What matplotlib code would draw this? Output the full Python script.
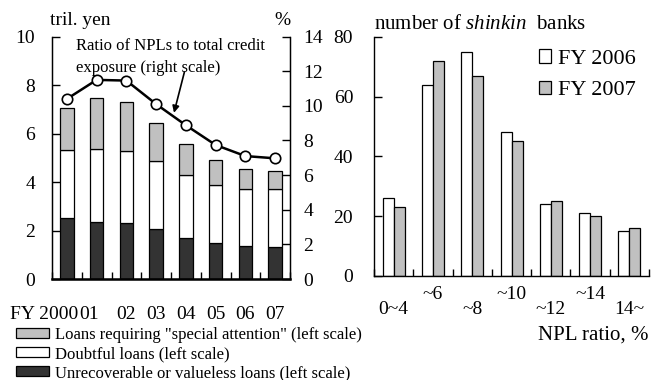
import matplotlib
matplotlib.use("Agg")
import matplotlib.pyplot as plt
from matplotlib.patches import Patch
import numpy as np

plt.rcParams['font.family'] = ['Liberation Serif', 'DejaVu Serif']
plt.rcParams['mathtext.fontset'] = 'custom'
plt.rcParams['mathtext.it'] = 'Liberation Serif:italic'
plt.rcParams['mathtext.rm'] = 'Liberation Serif'

# ---- Left panel data (tril. yen) ----
years = ["FY 2000", "01", "02", "03", "04", "05", "06", "07"]
unrecoverable = [2.51, 2.37, 2.33, 2.07, 1.68, 1.47, 1.36, 1.31]
doubtful = [2.82, 3.00, 2.96, 2.79, 2.63, 2.39, 2.35, 2.40]
special_attention = [1.72, 2.10, 2.00, 1.57, 1.27, 1.06, 0.82, 0.74]
npl_ratio = [10.4, 11.5, 11.46, 10.1, 8.88, 7.74, 7.1, 6.97]

# ---- Right panel data (number of shinkin banks) ----
npl_bins = ["0~4", "~6", "~8", "~10", "~12", "~14", "14~"]
fy2006 = [26, 64, 75, 48, 24, 21, 15]
fy2007 = [23, 72, 67, 45, 25, 20, 16]

GRAY = "#c0c0c0"
DARK = "#333333"
FS = 14

fig = plt.figure(figsize=(6.64, 3.80), dpi=100)

# ================= Left panel =================
ax = fig.add_axes([52/664, 1-279/380, 238/664, 242.4/380])
x = np.arange(len(years))
w = 0.46
ax.bar(x, unrecoverable, w, color=DARK, edgecolor='black', linewidth=0.9)
ax.bar(x, doubtful, w, bottom=unrecoverable, color='white', edgecolor='black', linewidth=0.9)
bot2 = np.array(unrecoverable) + np.array(doubtful)
ax.bar(x, special_attention, w, bottom=bot2, color=GRAY, edgecolor='black', linewidth=0.9)
ax.set_xlim(-0.5, len(years) - 0.5)
ax.set_ylim(0, 10)
ax.set_yticks(range(0, 11, 2))
ax.tick_params(axis='y', direction='in', length=6, width=1, labelsize=FS, pad=12)
ax.set_xticks(x)
ax.set_xticklabels([])
ax.set_xticks(np.arange(-0.5, len(years), 1), minor=True)
ax.tick_params(axis='x', which='major', length=0)
ax.tick_params(axis='x', which='minor', direction='in', length=5, width=1)
ax.spines['top'].set_visible(False)
for s in ['left', 'right']:
    ax.spines[s].set_linewidth(1)
ax.spines['bottom'].set_linewidth(1.8)

# year labels (first two nudged like the reference)
xt = ax.get_xaxis_transform()
for i, lab in enumerate(years):
    if i == 0:
        ax.text(i + 0.37, -0.1485, lab, transform=xt, fontsize=FS, ha='right', va='center')
    elif i == 1:
        ax.text(i - 0.25, -0.1485, lab, transform=xt, fontsize=FS, ha='center', va='center')
    else:
        ax.text(i, -0.1485, lab, transform=xt, fontsize=FS, ha='center', va='center')

ax2 = ax.twinx()
ax2.plot(x, npl_ratio, color='black', lw=1.8, marker='o', markersize=7.5,
         markerfacecolor='white', markeredgecolor='black', markeredgewidth=1.2, zorder=5)
ax2.set_ylim(0, 14)
ax2.set_yticks(range(0, 15, 2))
ax2.tick_params(axis='y', direction='in', length=6, width=1, labelsize=FS, pad=9.5)
ax2.spines['top'].set_visible(False)

ax.text(-0.008, 1.03, "tril. yen", transform=ax.transAxes, fontsize=FS, ha='left', va='bottom')
ax.text(0.97, 1.03, "%", transform=ax.transAxes, fontsize=FS, ha='center', va='bottom')

ax2.annotate("", xy=(3.6, 9.6), xytext=(3.95, 11.95),
             arrowprops=dict(arrowstyle='-|>', color='black', lw=1.2, mutation_scale=10,
                             shrinkA=0, shrinkB=0))
ax.text(0.1, 0.993, "Ratio of NPLs to total credit\nexposure (right scale)",
        transform=ax.transAxes, fontsize=12, ha='left', va='top', linespacing=1.45)

handles = [Patch(facecolor=GRAY, edgecolor='black', lw=0.9),
           Patch(facecolor='white', edgecolor='black', lw=0.9),
           Patch(facecolor=DARK, edgecolor='black', lw=0.9)]
labels = ['Loans requiring "special attention" (left scale)',
          'Doubtful loans (left scale)',
          'Unrecoverable or valueless loans (left scale)']
fig.legend(handles, labels, loc='upper left', bbox_to_anchor=(16/664, 1-327/380),
           frameon=False, fontsize=12, handlelength=2.0, handleheight=0.6,
           handletextpad=0.35, labelspacing=0.18, borderpad=0, borderaxespad=0)

# ================= Right panel =================
bx = fig.add_axes([374/664, 1-276/380, 275/664, 239.3/380])
g = np.arange(len(npl_bins))
bw = 0.28
bx.bar(g - bw/2, fy2006, bw, color='white', edgecolor='black', linewidth=0.9, label='FY 2006')
bx.bar(g + bw/2, fy2007, bw, color=GRAY, edgecolor='black', linewidth=0.9, label='FY 2007')
bx.set_xlim(-0.5, len(npl_bins) - 0.5)
bx.set_ylim(0, 80)
bx.set_yticks(range(0, 81, 20))
bx.tick_params(axis='y', direction='in', length=6, width=1, labelsize=FS, pad=15)
bx.set_xticks(g)
bx.set_xticklabels([])
bx.tick_params(axis='x', which='major', length=0)
bx.set_xticks(np.arange(-0.5, len(npl_bins), 1), minor=True)
bx.tick_params(axis='x', which='minor', direction='in', length=5, width=1)
bx.spines['top'].set_visible(False)
bx.spines['right'].set_visible(False)
bx.spines['left'].set_linewidth(1)
bx.spines['bottom'].set_linewidth(1)

bt = bx.get_xaxis_transform()
for i, lab in enumerate(npl_bins):
    yy = -0.078 if i % 2 == 1 else -0.14
    bx.text(i, yy, lab, transform=bt, fontsize=FS, ha='center', va='center')

bx.text(0.0, 1.01, r"number of $\it{shinkin}$  banks", transform=bx.transAxes,
        fontsize=15, ha='left', va='bottom')
bx.text(1.0, -0.247, "NPL ratio, %", transform=bx.transAxes, fontsize=15, ha='right', va='center')
bx.legend(loc='upper left', bbox_to_anchor=(0.6, 0.948), frameon=False, fontsize=16,
          handlelength=0.55, handleheight=0.55, handletextpad=0.3, labelspacing=0.55,
          borderpad=0, borderaxespad=0)

fig.savefig("out.png", dpi=100)
